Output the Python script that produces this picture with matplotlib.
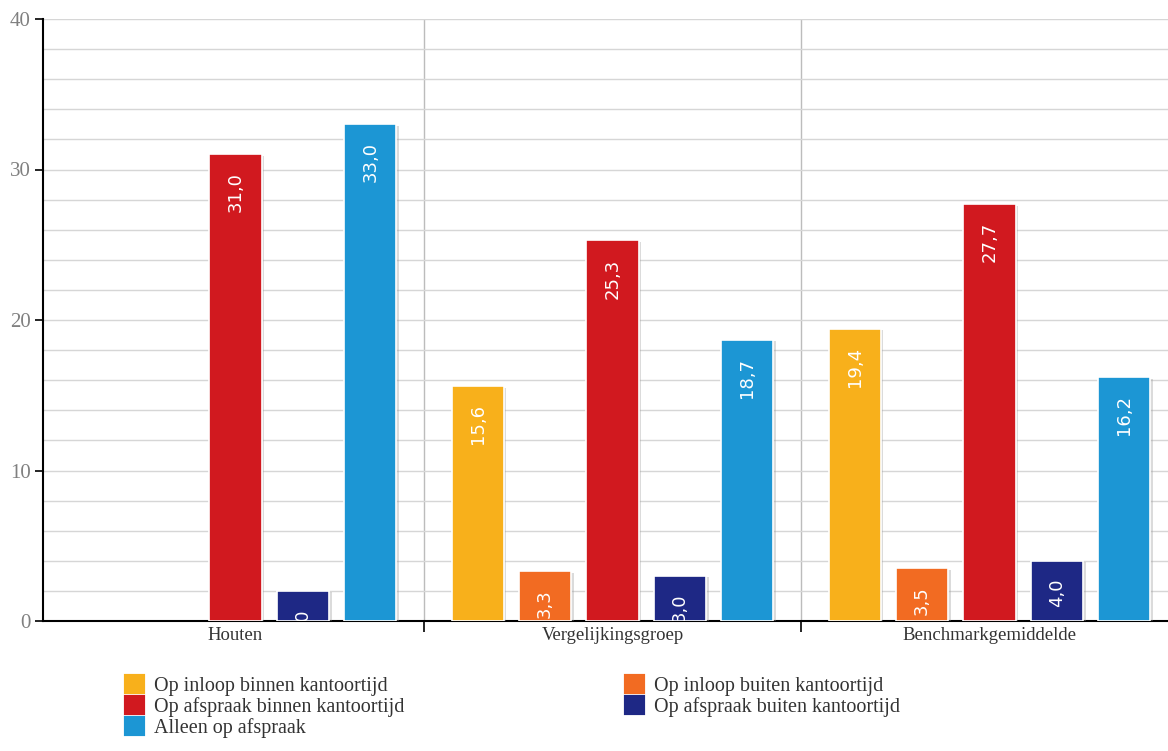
import matplotlib.pyplot as plt
import matplotlib.patheffects as pe
from matplotlib.patches import Patch
import numpy as np

groups = ["Houten", "Vergelijkingsgroep", "Benchmarkgemiddelde"]
series = [
    "Op inloop binnen kantoortijd",
    "Op inloop buiten kantoortijd",
    "Op afspraak binnen kantoortijd",
    "Op afspraak buiten kantoortijd",
    "Alleen op afspraak",
]
colors = ["#F8B01B", "#F26B22", "#D1191F", "#1E2885", "#1C96D4"]

inloop_binnen = [0.0, 15.6, 19.4]
inloop_buiten = [0.0, 3.3, 3.5]
afspraak_binnen = [31.0, 25.3, 27.7]
afspraak_buiten = [2.0, 3.0, 4.0]
alleen_afspraak = [33.0, 18.7, 16.2]
values = [inloop_binnen, inloop_buiten, afspraak_binnen, afspraak_buiten, alleen_afspraak]

plt.rcParams['font.family'] = ['Liberation Serif', 'DejaVu Serif']

fig = plt.figure(figsize=(11.68, 7.51), dpi=100)
# axes runs a little past the right edge of the canvas
ax = fig.add_axes([43 / 1168, 1 - 621 / 751, 1135 / 1168, 602 / 751])

x = np.arange(len(groups))
step = 0.179
width = 0.138
shadow = [pe.SimplePatchShadow(offset=(2, -1), shadow_rgbFace='#999999', alpha=0.35), pe.Normal()]

for i, (name, vals, col) in enumerate(zip(series, values, colors)):
    pos = x + (i - 2) * step
    bars = ax.bar(pos, vals, width, color=col, edgecolor='white', linewidth=1.2, zorder=3)
    for b, v in zip(bars, vals):
        if v == 0:
            b.set_visible(False)
            continue
        b.set_path_effects(shadow)
    for px, v in zip(pos, vals):
        if v == 0:
            continue
        ax.annotate(f"{v:.1f}".replace(".", ","), (px, v), xytext=(0, -13),
                    textcoords='offset points', rotation=90, ha='center', va='top',
                    color='white', fontsize=13, family='DejaVu Sans',
                    annotation_clip=True, clip_on=True, zorder=4)

ax.set_xlim(-0.5 - 4 / 377, 2.5)
ax.set_ylim(0, 40)

# light grid every 2 units, group separators
ax.set_yticks(np.arange(0, 41, 10))
ax.set_yticks(np.arange(0, 41, 2), minor=True)
ax.grid(axis='y', which='both', color='#d6d6d6', linewidth=1, zorder=0)
for sep in [0.5, 1.5]:
    ax.axvline(sep, color='#bcbcbc', linewidth=1, zorder=1)

ax.set_xticks(x)
ax.set_xticklabels(groups, fontsize=13.5, color='#333333')
ax.set_xticks([0.5, 1.5], minor=True)
ax.tick_params(axis='x', which='major', length=0, pad=4)
ax.tick_params(axis='x', which='minor', length=8, width=1.2, color='black')
ax.tick_params(axis='y', which='major', length=6, width=1.2, labelsize=15,
               labelcolor='#808080', pad=3)
ax.tick_params(axis='y', which='minor', length=0)

for s in ['top', 'right']:
    ax.spines[s].set_visible(False)
ax.spines['left'].set_linewidth(1.5)
ax.spines['bottom'].set_linewidth(1.5)

def handles(idx):
    return [Patch(facecolor=colors[i], edgecolor=colors[i], linewidth=3,
                  joinstyle='round', label=series[i]) for i in idx]

legend_kw = dict(frameon=False, fontsize=14.5, handlelength=0.85, handleheight=0.85,
                 handletextpad=0.55, labelspacing=0.06, borderaxespad=0, borderpad=0,
                 labelcolor='#333333')
fig.legend(handles=handles([0, 2, 4]), loc='upper left',
           bbox_to_anchor=(126 / 1168, 1 - 676 / 751), **legend_kw)
fig.legend(handles=handles([1, 3]), loc='upper left',
           bbox_to_anchor=(626 / 1168, 1 - 676 / 751), **legend_kw)

fig.savefig("out.png", dpi=100)
